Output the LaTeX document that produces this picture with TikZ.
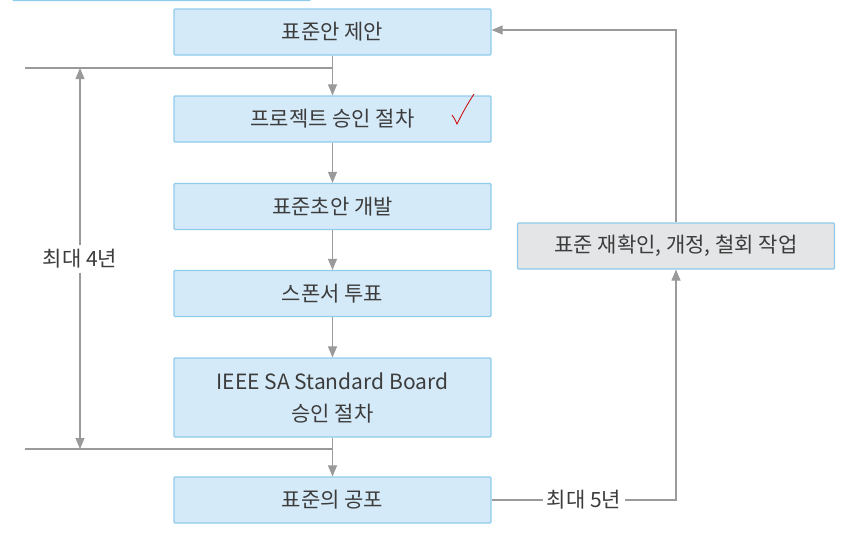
\documentclass[tikz,border=0pt]{standalone}
\usepackage{fontspec}
\setmainfont{Noto Sans CJK KR}
\usetikzlibrary{arrows.meta}
\definecolor{boxfill}{HTML}{D5EAF8}
\definecolor{boxline}{HTML}{8FCBEB}
\definecolor{grayfill}{HTML}{E4E5E6}
\definecolor{linegray}{HTML}{9A9A9A}
\definecolor{txt}{HTML}{3C3C3C}
\tikzset{
  stepbox/.style={draw=boxline, fill=boxfill, line width=1.2pt, rounded corners=1pt,
    minimum width=317pt, minimum height=46pt, inner sep=0pt, font=\fontsize{21}{32}\selectfont,
    text=txt, align=center},
  graybox/.style={stepbox, fill=grayfill, minimum width=317pt},
  conn/.style={draw=linegray, line width=1.1pt},
  arr/.style={conn, -{Triangle[length=11pt,width=9pt]}},
  dimlabel/.style={fill=white, inner sep=4pt, font=\fontsize{21}{24}\selectfont, text=txt},
}
\begin{document}
\begin{tikzpicture}[x=1pt,y=-1pt]
\useasboundingbox (0,0) rectangle (844,538);
\fill[white] (0,0) rectangle (844,538);
% partial box at top edge
\node[stepbox, minimum width=298pt, minimum height=30pt, anchor=south west] (top) at (12,1) {};
% main column
\node[stepbox] (b1) at (332.5,32) {표준안 제안};
\node[stepbox] (b2) at (332.5,119) {프로젝트 승인 절차};
\node[stepbox] (b3) at (332.5,206.5) {표준초안 개발};
\node[stepbox] (b4) at (332.5,293.5) {스폰서 투표};
\node[stepbox, minimum height=79pt] (b5) at (332.5,397.5) {IEEE SA Standard Board\\승인 절차};
\node[stepbox] (b6) at (332.5,500) {표준의 공포};
\node[graybox] (b7) at (676,246) {표준 재확인, 개정, 철회 작업};
% check mark
\draw[red!80!black, line width=0.8pt, line cap=round]
  (452,115) .. controls (455,119) and (456,122) .. (457,124)
  .. controls (463,112) and (468,103) .. (474,94);
% vertical flow
\draw[arr] (b1) -- (b2);
\draw[arr] (b2) -- (b3);
\draw[arr] (b3) -- (b4);
\draw[arr] (b4) -- (b5);
\draw[arr] (b5) -- (b6);
% left span lines
\coordinate (hl1) at (25,68);
\coordinate (hr1) at (332.5,68);
\coordinate (hl2) at (25,449);
\coordinate (hr2) at (332.5,449);
\draw[conn] (hl1) -- (hr1);
\draw[conn] (hl2) -- (hr2);
\coordinate (vt) at (80,68);
\coordinate (vb) at (80,449);
\node[dimlabel] (d4) at (80,259) {최대 4년};
\draw[arr] (d4) -- (vt);
\draw[arr] (d4) -- (vb);
% right loop
\coordinate (rc) at (676,30);
\draw[arr] (b7.north) -- (rc) -- (b1.east |- rc);
\node[dimlabel] (d5) at (584,500) {최대 5년};
\coordinate (rb) at (676,500);
\draw[conn] (b6.east) -- (d5.west);
\draw[arr] (d5.east) -- (rb) -- (b7.south);
\end{tikzpicture}
\end{document}
